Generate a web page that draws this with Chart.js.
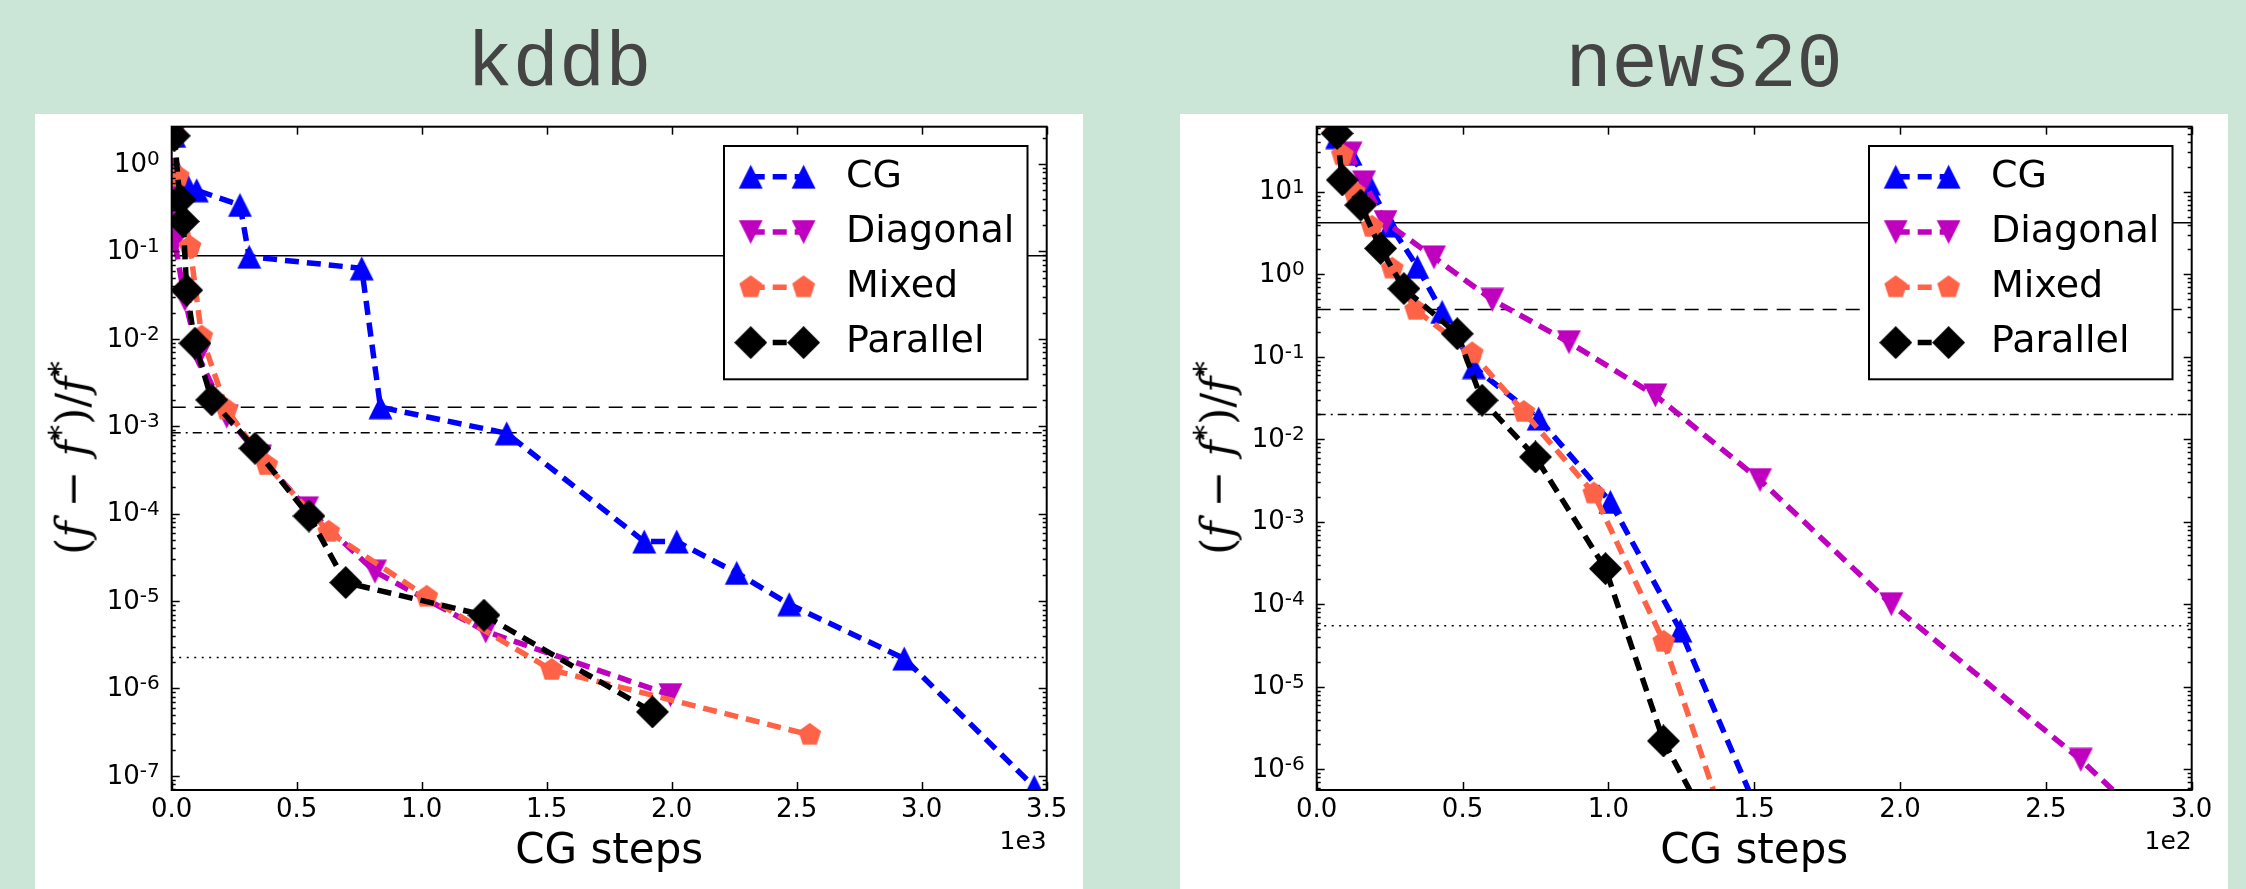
<!DOCTYPE html>
<html>
<head>
<meta charset="UTF-8">
<title>kddb / news20</title>
<script src="https://cdn.jsdelivr.net/npm/chart.js"></script>
<style>
    body {
        margin: 0;
        width: 2246px;
        height: 889px;
        background: #cbe5d6;
        position: relative;
        overflow: hidden;
    }
    .panel {
        position: absolute;
        top: 114px;
        width: 1048px;
        height: 775px;
        background: #fff;
    }
    .panel canvas { display: block; }
    .title {
        position: absolute;
        top: 27px;
        width: 1048px;
        text-align: center;
        font-family: 'Liberation Mono', monospace;
        font-size: 77px;
        line-height: 77px;
        color: #444;
    }
    .ylab {
        position: absolute;
        top: 458px;
        transform: translate(-50%, -50%) rotate(-90deg);
        font-family: 'DejaVu Serif', serif;
        font-size: 44px;
        line-height: 1;
        white-space: nowrap;
        color: #000;
    }
    .ylab sup { font-size: 70%; }
</style>
</head>
<body>
<div class="title" style="left:35px">kddb</div>
<div class="title" style="left:1180px">news20</div>
<div class="panel" style="left:35px"><canvas id="kddb-chart" width="1048" height="775"></canvas></div>
<div class="panel" style="left:1180px"><canvas id="news20-chart" width="1048" height="775"></canvas></div>
<div class="ylab" style="left:70px">(<i>f</i> − <i>f</i><sup>*</sup>)/<i>f</i><sup>*</sup></div>
<div class="ylab" style="left:1215px">(<i>f</i> − <i>f</i><sup>*</sup>)/<i>f</i><sup>*</sup></div>

<script>
    const seriesNames = ['CG', 'Diagonal', 'Mixed', 'Parallel'];

    // kddb: CG steps vs relative error
    const kddbCgSteps = [10, 20, 66, 100, 273, 310, 760, 835, 1340, 1890, 2020, 2260, 2470, 2930, 3450];
    const kddbCgErr = [2.1, 0.85, 0.55, 0.50, 0.34, 0.087, 0.064, 1.65e-3, 8.3e-4, 4.8e-5, 4.8e-5, 2.1e-5, 9.2e-6, 2.2e-6, 7.5e-8];
    const kddbDiagSteps = [10, 13, 53, 107, 220, 353, 541, 813, 1256, 1995];
    const kddbDiagErr = [2.1, 0.124, 0.028, 6.3e-3, 1.29e-3, 4.5e-4, 1.15e-4, 2.17e-5, 4.5e-6, 8.4e-7];
    const kddbMixedSteps = [10, 26, 73, 120, 220, 380, 628, 1020, 1520, 2552];
    const kddbMixedErr = [2.1, 0.72, 0.113, 0.0106, 1.55e-3, 3.6e-4, 6.2e-5, 1.12e-5, 1.63e-6, 2.95e-7];
    const kddbParSteps = [10, 33, 46, 60, 93, 160, 333, 549, 696, 1249, 1923];
    const kddbParErr = [2.1, 0.39, 0.22, 0.036, 8.9e-3, 2.0e-3, 5.6e-4, 9.4e-5, 1.63e-5, 6.9e-6, 5.4e-7];
    const kddbRefLines = [0.089, 1.65e-3, 8.45e-4, 2.26e-6];
    const kddbXTicks = [0, 500, 1000, 1500, 2000, 2500, 3000, 3500];
    const kddbXTickLabels = ['0.0', '0.5', '1.0', '1.5', '2.0', '2.5', '3.0', '3.5'];
    const kddbYTicks = [1e-7, 1e-6, 1e-5, 1e-4, 1e-3, 1e-2, 1e-1, 1e0];
    const kddbYTickLabels = ['10⁻⁷', '10⁻⁶', '10⁻⁵', '10⁻⁴', '10⁻³', '10⁻²', '10⁻¹', '10⁰'];

    // news20
    const newsCgSteps = [7, 11.6, 17.9, 25.3, 34.5, 43, 53.9, 76.1, 100.7, 124.7, 155];
    const newsCgErr = [46, 29, 12.6, 3.9, 1.23, 0.35, 0.075, 0.0178, 1.74e-3, 4.8e-5, 1.5e-7];
    const newsDiagSteps = [7, 11.6, 16.2, 23.6, 40.2, 60.2, 86.5, 116.1, 152, 197, 262, 300];
    const newsDiagErr = [50, 29, 13, 4.3, 1.6, 0.49, 0.15, 0.034, 3.2e-3, 1.0e-4, 1.3e-6, 7e-8];
    const newsMixedSteps = [6.5, 8.8, 12.8, 19, 25.9, 33.9, 53.3, 71, 95, 119, 140];
    const newsMixedErr = [54, 27.8, 10, 3.76, 1.17, 0.37, 0.11, 0.0214, 2.2e-3, 3.5e-5, 2.1e-7];
    const newsParSteps = [7, 8.8, 15.1, 21.9, 29.9, 48.2, 56.7, 75, 99, 118.9, 135];
    const newsParErr = [51, 13.9, 6.9, 2.06, 0.67, 0.19, 0.0297, 6.1e-3, 2.7e-4, 2.2e-6, 1.9e-7];
    const newsRefLines = [4.2, 0.374, 0.020, 5.47e-5];
    const newsXTicks = [0, 50, 100, 150, 200, 250, 300];
    const newsXTickLabels = ['0.0', '0.5', '1.0', '1.5', '2.0', '2.5', '3.0'];
    const newsYTicks = [1e-6, 1e-5, 1e-4, 1e-3, 1e-2, 1e-1, 1e0, 1e1];
    const newsYTickLabels = ['10⁻⁶', '10⁻⁵', '10⁻⁴', '10⁻³', '10⁻²', '10⁻¹', '10⁰', '10¹'];

    const seriesColors = ['#0000ff', '#bf00bf', '#ff6347', '#000000'];
    const refDashes = [[], [14, 9], [9, 5, 2, 5], [2, 5.5]];
    const tickFont = "26px 'DejaVu Sans'";
    const expFont = "20px 'DejaVu Sans'";
    const supDigits = { '⁻': '-', '⁰': '0', '¹': '1', '²': '2', '³': '3', '⁴': '4', '⁵': '5', '⁶': '6', '⁷': '7', '⁸': '8', '⁹': '9' };

    // marker images (matplotlib ^ v p D)
    function markerImage(size, color, path) {
        const c = document.createElement('canvas');
        c.width = c.height = size;
        const g = c.getContext('2d');
        g.fillStyle = color;
        g.beginPath();
        path(g, size);
        g.closePath();
        g.fill();
        return c;
    }
    const markers = [
        markerImage(25, seriesColors[0], (g, s) => { g.moveTo(s / 2, 0.5); g.lineTo(s - 0.5, s - 0.5); g.lineTo(0.5, s - 0.5); }),
        markerImage(25, seriesColors[1], (g, s) => { g.moveTo(0.5, 0.5); g.lineTo(s - 0.5, 0.5); g.lineTo(s / 2, s - 0.5); }),
        markerImage(26, seriesColors[2], (g, s) => {
            for (let k = 0; k < 5; k++) {
                const a = -Math.PI / 2 + k * 2 * Math.PI / 5;
                g.lineTo(s / 2 + 12 * Math.cos(a), s / 2 + 12 * Math.sin(a));
            }
        }),
        markerImage(33, seriesColors[3], (g, s) => { g.moveTo(s / 2, 0); g.lineTo(s, s / 2); g.lineTo(s / 2, s); g.lineTo(0, s / 2); })
    ];
    const markerRadius = [13, 13, 13, 16];

    function decorations(offsetText) {
        return {
            id: 'decorations',
            afterDraw(chart) {
                const ctx = chart.ctx;
                const a = chart.chartArea;
                const xs = chart.scales.x, ys = chart.scales.y;
                const seg = (x1, y1, x2, y2) => { ctx.beginPath(); ctx.moveTo(x1, y1); ctx.lineTo(x2, y2); ctx.stroke(); };
                ctx.save();
                ctx.strokeStyle = '#000';
                ctx.lineWidth = 1.5;

                // inward minor/major ticks on the log axis
                const lo = Math.floor(Math.log10(ys.min)), hi = Math.ceil(Math.log10(ys.max));
                for (let e = lo; e <= hi; e++) {
                    for (let m = 1; m < 10; m++) {
                        const v = m * Math.pow(10, e);
                        if (v < ys.min || v > ys.max) continue;
                        const py = Math.round(ys.getPixelForValue(v)) + 0.5;
                        const len = m === 1 ? 8 : 4;
                        seg(a.left, py, a.left + len, py);
                        seg(a.right, py, a.right - len, py);
                    }
                }
                xs.ticks.forEach(t => {
                    const px = Math.round(xs.getPixelForValue(t.value)) + 0.5;
                    seg(px, a.bottom, px, a.bottom - 8);
                    seg(px, a.top, px, a.top + 8);
                });

                ctx.lineWidth = 2;
                ctx.strokeRect(a.left, a.top, a.right - a.left, a.bottom - a.top);

                // y tick labels as 10 with a raised exponent
                ctx.fillStyle = '#000';
                ctx.textAlign = 'right';
                ctx.textBaseline = 'alphabetic';
                ys.ticks.forEach(t => {
                    const label = String(t.label);
                    const exp = label.slice(2).split('').map(ch => supDigits[ch] || ch).join('');
                    const py = ys.getPixelForValue(t.value);
                    const xr = a.left - 12;
                    ctx.font = expFont;
                    const ew = ctx.measureText(exp).width;
                    ctx.fillText(exp, xr, py + 1);
                    ctx.font = tickFont;
                    ctx.fillText(label.slice(0, 2), xr - ew, py + 7.7);
                });

                ctx.font = "25px 'DejaVu Sans'";
                ctx.textAlign = 'right';
                ctx.textBaseline = 'middle';
                ctx.fillText(offsetText, a.right, 728);

                // legend box
                const bw = 303.5, bh = 233.3;
                const bx = a.right - 19.2 - bw, by = a.top + 19.3;
                ctx.fillStyle = '#fff';
                ctx.fillRect(bx, by, bw, bh);
                ctx.lineWidth = 2;
                ctx.strokeRect(bx, by, bw, bh);
                seriesNames.forEach((name, i) => {
                    const ds = chart.data.datasets[i];
                    const y = by + 30.7 + 55.3 * i;
                    ctx.save();
                    ctx.strokeStyle = ds.borderColor;
                    ctx.lineWidth = ds.borderWidth;
                    ctx.setLineDash(ds.borderDash);
                    seg(bx + 26.7, y, bx + 79.6, y);
                    ctx.restore();
                    const img = ds.pointStyle;
                    ctx.drawImage(img, bx + 26.7 - img.width / 2, y - img.height / 2);
                    ctx.drawImage(img, bx + 79.6 - img.width / 2, y - img.height / 2);
                    ctx.fillStyle = '#000';
                    ctx.font = "38px 'DejaVu Sans'";
                    ctx.textAlign = 'left';
                    ctx.textBaseline = 'middle';
                    ctx.fillText(name, bx + 122, y);
                });
                ctx.restore();
            }
        };
    }

    function buildChart(id, cfg) {
        const datasets = cfg.series.map((s, i) => ({
            label: seriesNames[i],
            data: s[0].map((x, j) => ({ x: x, y: s[1][j] })),
            borderColor: seriesColors[i],
            backgroundColor: seriesColors[i],
            borderWidth: 5.5,
            borderDash: [14, 8],
            pointStyle: markers[i],
            pointRadius: markerRadius[i],
            order: 4 - i
        }));
        cfg.refs.forEach((v, k) => datasets.push({
            label: '',
            data: [{ x: cfg.xTicks[0], y: v }, { x: cfg.xTicks[cfg.xTicks.length - 1], y: v }],
            borderColor: '#000',
            borderWidth: 1.5,
            borderDash: refDashes[k],
            pointRadius: 0,
            order: 10
        }));

        new Chart(document.getElementById(id), {
            type: 'line',
            data: { datasets: datasets },
            options: {
                responsive: false,
                animation: false,
                devicePixelRatio: 1,
                layout: { autoPadding: false, padding: { top: 12.7, right: 36.3, left: 0, bottom: 0 } },
                plugins: { legend: { display: false }, tooltip: { enabled: false } },
                scales: {
                    x: {
                        type: 'linear',
                        min: cfg.xTicks[0],
                        max: cfg.xTicks[cfg.xTicks.length - 1],
                        grid: { display: false, drawTicks: false },
                        border: { display: false },
                        afterFit: s => { s.height = 99; s.paddingLeft = 0; s.paddingRight = 0; },
                        afterBuildTicks: s => { s.ticks = cfg.xTicks.map(v => ({ value: v })); },
                        ticks: {
                            autoSkip: false, maxRotation: 0, padding: 5, color: '#000',
                            font: { family: "'DejaVu Sans'", size: 26 },
                            callback: (v, i) => cfg.xTickLabels[i]
                        },
                        title: {
                            display: true, text: 'CG steps', color: '#000',
                            font: { family: "'DejaVu Sans'", size: 42 },
                            padding: { top: 0, bottom: 12 }
                        }
                    },
                    y: {
                        type: 'logarithmic',
                        min: cfg.yMin,
                        max: cfg.yMax,
                        grid: { display: false, drawTicks: false },
                        border: { display: false },
                        afterFit: s => { s.width = 136.7; s.paddingTop = 0; s.paddingBottom = 0; },
                        afterBuildTicks: s => { s.ticks = cfg.yTicks.map(v => ({ value: v })); },
                        ticks: {
                            display: false, autoSkip: false, padding: 12,
                            callback: (v, i) => cfg.yTickLabels[i]
                        }
                    }
                }
            },
            plugins: [decorations(cfg.offsetText)]
        });
    }

    buildChart('kddb-chart', {
        series: [[kddbCgSteps, kddbCgErr], [kddbDiagSteps, kddbDiagErr], [kddbMixedSteps, kddbMixedErr], [kddbParSteps, kddbParErr]],
        refs: kddbRefLines,
        xTicks: kddbXTicks, xTickLabels: kddbXTickLabels,
        yTicks: kddbYTicks, yTickLabels: kddbYTickLabels,
        yMin: 6.9e-8, yMax: 2.67,
        offsetText: '1e3'
    });

    buildChart('news20-chart', {
        series: [[newsCgSteps, newsCgErr], [newsDiagSteps, newsDiagErr], [newsMixedSteps, newsMixedErr], [newsParSteps, newsParErr]],
        refs: newsRefLines,
        xTicks: newsXTicks, xTickLabels: newsXTickLabels,
        yTicks: newsYTicks, yTickLabels: newsYTickLabels,
        yMin: 5.6e-7, yMax: 61.5,
        offsetText: '1e2'
    });
</script>
</body>
</html>
